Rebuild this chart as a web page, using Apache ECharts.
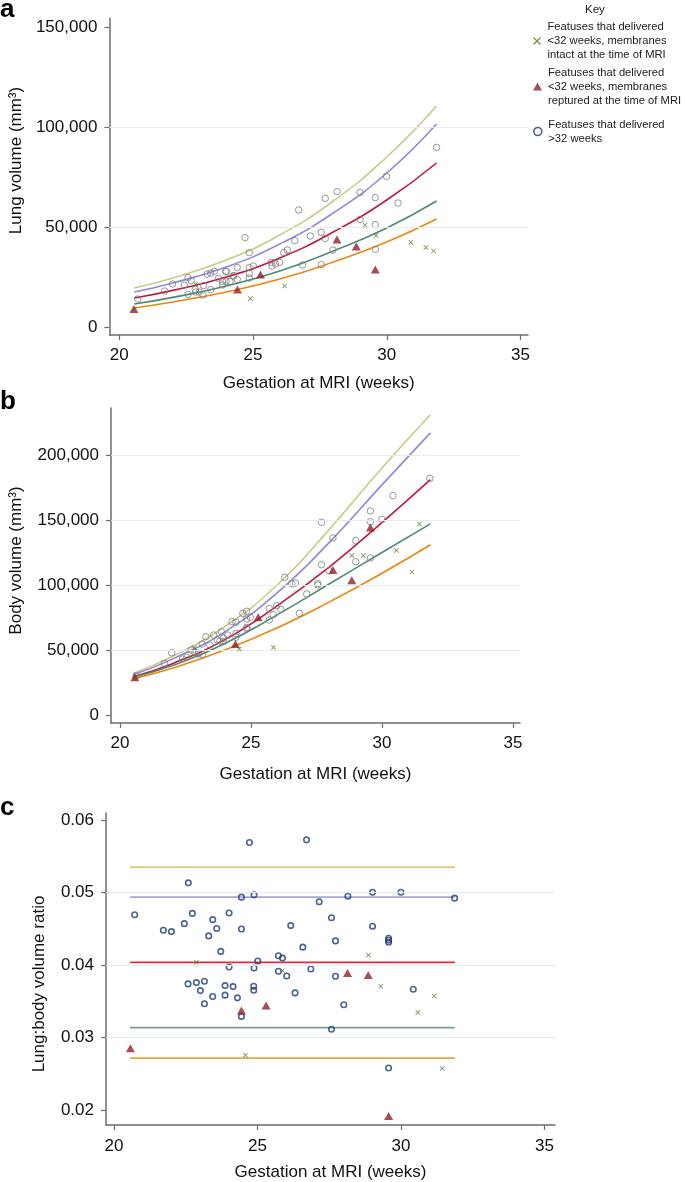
<!DOCTYPE html>
<html>
<head>
<meta charset="utf-8">
<script src="https://cdn.jsdelivr.net/npm/echarts@6/dist/echarts.min.js"></script>
<style>
html,body{margin:0;padding:0;background:#fff;}
#chart{width:685px;height:1182px;}
</style>
</head>
<body>
<div id="chart"></div>
<script>
// ---------- tick labels ----------
const xTicks = [20, 25, 30, 35];
const yTicksA = [0, 50000, 100000, 150000];
const yTicksB = [0, 50000, 100000, 150000, 200000];
const yTicksC = [0.02, 0.03, 0.04, 0.05, 0.06];
const gridA = [50000, 100000];
const gridB = [50000, 100000, 150000, 200000];
const gridC = [0.03, 0.04, 0.05];

// ---------- legend names ----------
const nameIntact = 'Featuses that delivered\n<32 weeks, membranes\nintact at the time of MRI';
const nameRuptured = 'Featuses that delivered\n<32 weeks, membranes\nreptured at the time of MRI';
const nameTerm = 'Featuses that delivered\n>32 weeks';

// ---------- panel a: lung volume ----------
const aCircX = [20.69,21.70,21.99,22.43,22.57,22.69,22.57,22.84,22.86,22.99,23.15,23.13,23.29,23.42,23.56,23.42,23.71,23.86,23.86,23.99,24.14,23.98,24.26,24.41,24.41,24.70,24.86,24.86,25.01,24.86,24.86,25.69,25.84,26.00,25.71,26.15,26.28,26.56,26.71,26.85,27.14,27.55,27.70,27.70,27.56,27.99,28.14,29.00,29.00,29.57,29.57,29.57,29.99,30.42,31.86,24.00,24.28];
const aCircY = [14000,18000,21500,21000,24700,23300,16300,18800,17500,17500,20700,16000,26500,27000,27800,18700,24300,22800,21000,22800,22800,27800,25500,29700,23800,44700,37200,29700,30500,26800,24500,32300,31500,32300,30500,37200,38500,43200,58500,31000,45500,47300,64300,44300,31200,38500,67700,67300,53800,64700,51200,38800,75300,62000,89800,27700,25700];
const aCrossX = [22.86,24.90,26.18,29.19,29.60,30.90,31.46,31.75];
const aCrossY = [21300,14200,20500,51000,45700,42300,39700,38000];
const aTriX = [20.55,24.42,25.28,28.14,28.86,29.57];
const aTriY = [9000,18800,26200,43800,40300,28800];
const aCurveWeeks = [20.56,22,24,26,28,30,31.86];
const aYellow = [19500,24500,33500,46000,63000,85000,110500];
const aPurple = [17500,22000,30000,41500,57000,77000,101500];
const aRed    = [14500,18300,25000,34500,47500,63500,82000];
const aGreen  = [11500,14800,20500,28000,38000,49500,63000];
const aOrange = [9500,12500,17500,24000,32500,42500,54000];

// ---------- panel b: body volume ----------
const bCircX = [31.83,30.42,29.56,29.56,30.00,27.69,28.13,29.00,29.00,29.56,27.69,27.98,26.29,26.56,26.70,27.55,27.55,27.13,26.85,25.70,25.99,26.14,25.85,25.70,24.69,24.84,24.84,24.98,24.84,24.84,24.28,24.43,24.43,24.43,24.12,23.87,23.95,23.82,23.95,23.72,23.58,23.43,23.28,23.14,22.71,23.00,23.15,22.55,22.39,21.98,21.70,20.62,22.86,22.98];
const bCircY = [182000,168700,156900,148700,150500,148200,136200,134300,117900,120800,115600,111000,105900,101000,101500,101000,100000,93100,78200,82000,84100,81300,77200,73100,78200,79800,73800,75100,67400,66600,71800,71300,62800,59800,61500,64100,59000,56900,56400,57700,61500,53800,60300,54600,50000,47400,46600,44400,43100,47900,39700,30000,48000,47000];
const bCrossX = [22.85,24.56,25.86,28.85,29.29,30.55,31.14,31.43];
const bCrossY = [51800,50800,52000,122600,122600,126600,110000,146900];
const bTriX = [20.57,24.41,25.28,28.13,28.85,29.56];
const bTriY = [29000,54600,75100,111500,103600,144300];
const bCurveWeeks = [20.5,22,24,26,28,30,31.85];
const bYellow = [32000,45000,68000,100000,143000,190000,231000];
const bPurple = [31000,43000,64000,94000,133000,177000,217000];
const bRed    = [29500,39500,58000,84000,114000,148000,181000];
const bGreen  = [29000,38000,55000,77000,101000,125000,147000];
const bOrange = [28000,36000,50000,67000,87000,109000,131000];

// ---------- panel c: lung:body ratio ----------
const cCircX = [24.72,26.71,22.59,20.72,21.72,22.00,22.45,22.73,23.44,23.58,23.30,24.01,24.44,24.88,24.44,23.72,24.01,24.88,25.01,25.73,25.87,25.73,26.02,26.16,26.58,26.86,27.15,27.58,27.72,27.72,28.15,29.01,29.01,29.57,29.57,29.57,30.00,31.87,30.43,28.01,22.58,22.87,23.15,23.01,23.87,24.15,23.44,23.15,23.87,24.30,24.87,24.87,24.44,26.31,27.58,29.57];
const cCircY = [0.05689,0.05726,0.05133,0.04694,0.04479,0.04461,0.04571,0.04712,0.04626,0.04503,0.04402,0.04717,0.04936,0.04968,0.04497,0.04188,0.03973,0.03959,0.04055,0.04128,0.04096,0.03914,0.03849,0.04544,0.04247,0.03945,0.04873,0.04653,0.04333,0.03845,0.04949,0.05004,0.04534,0.04370,0.04342,0.04315,0.05004,0.04922,0.03667,0.03452,0.03740,0.03758,0.03776,0.03648,0.03717,0.03703,0.03566,0.03466,0.03585,0.03548,0.03708,0.03653,0.03292,0.03616,0.03114,0.02580];
const cCrossX = [22.87,25.87,28.87,29.30,31.16,30.59,24.58,31.44];
const cCrossY = [0.04037,0.03922,0.04137,0.03708,0.03575,0.03347,0.02758,0.02575];
const cTriX = [28.14,28.86,24.44,25.30,20.57,29.57];
const cTriY = [0.03890,0.03863,0.03374,0.03442,0.02854,0.01918];
const cLineSpan = [20.56, 31.88];
const cLevels = [0.0535, 0.04936, 0.04037, 0.03137, 0.02716]; // yellow, purple, red, green, orange

// ---------- styles ----------
const FONT = 'Liberation Sans, Arial, Helvetica, sans-serif';
const FS = 17;
const AXIS = '#6e6e6e';
const curveColors = ['#cbc982', '#9088d8', '#c2163c', '#4f8a74', '#ea870f'];
const cLineColors = ['#dcc77c', '#a6a6cf', '#e42a3c', '#7b9c9c', '#e8a545'];
const CROSS = 'path://M0,1.2L1.2,0L5,3.8L8.8,0L10,1.2L6.2,5L10,8.8L8.8,10L5,6.2L1.2,10L0,8.8L3.8,5Z';
const crossColor = '#55792a';
const triColor = '#94202a';
const greyCirc = '#7d7d7d';
const navyCirc = '#1f3d75';

const zip = (xs, ys) => xs.map((x, i) => [x, ys[i]]);

function xAxisFor(gi, min, max, labelMargin, nameGap) {
  return {
    type: 'value', gridIndex: gi, min: min, max: max,
    name: 'Gestation at MRI (weeks)', nameLocation: 'middle', nameGap: nameGap,
    nameTextStyle: { fontFamily: FONT, fontSize: FS, color: '#111' },
    axisLine: { show: true, onZero: false, lineStyle: { color: AXIS, width: 1.5 } },
    axisTick: { show: true, length: 5, customValues: xTicks, lineStyle: { color: AXIS, width: 1.2 } },
    axisLabel: { customValues: xTicks, margin: labelMargin, fontFamily: FONT, fontSize: FS, color: '#111' },
    splitLine: { show: false }
  };
}
function yAxisFor(gi, min, max, ticks, name, nameGap, fmt, namePad) {
  return {
    type: 'value', gridIndex: gi, min: min, max: max,
    name: name, nameLocation: 'middle', nameGap: nameGap, nameRotate: 90,
    nameTextStyle: { fontFamily: FONT, fontSize: FS, color: '#111', padding: namePad },
    axisLine: { show: true, onZero: false, lineStyle: { color: AXIS, width: 1.5 } },
    axisTick: { show: true, length: 5, customValues: ticks, lineStyle: { color: AXIS, width: 1.2 } },
    axisLabel: { customValues: ticks, margin: 12, fontFamily: FONT, fontSize: FS, color: '#111', formatter: fmt },
    splitLine: { show: false }
  };
}
const fmtThousands = v => Math.round(v).toLocaleString('en-US');
const fmtRatio = v => v.toFixed(2);

function gridLines(values) {
  return {
    silent: true, symbol: 'none', label: { show: false },
    lineStyle: { color: '#e4ecf0', width: 1, type: 'solid' },
    data: values.map(v => ({ yAxis: v }))
  };
}

const series = [];
function addCurves(ai, weeks, arrays) {
  arrays.forEach((vals, k) => {
    series.push({
      type: 'line', xAxisIndex: ai, yAxisIndex: ai, data: zip(weeks, vals),
      smooth: true, symbol: 'none', silent: true, z: 2,
      lineStyle: { color: curveColors[k], width: 1.6 }
    });
  });
}
function addScatter(ai, circ, cross, tri, circColor, circSize, circBorder, grid) {
  series.push({
    name: nameTerm, type: 'scatter', xAxisIndex: ai, yAxisIndex: ai, data: circ,
    symbol: 'circle', symbolSize: circSize, z: 4,
    itemStyle: { color: 'rgba(255,255,255,0)', borderColor: circColor, borderWidth: circBorder },
    markLine: gridLines(grid)
  });
  series.push({
    name: nameIntact, type: 'scatter', xAxisIndex: ai, yAxisIndex: ai, data: cross,
    symbol: CROSS, symbolSize: 5, z: 5, itemStyle: { color: crossColor }
  });
  series.push({
    name: nameRuptured, type: 'scatter', xAxisIndex: ai, yAxisIndex: ai, data: tri,
    symbol: 'triangle', symbolSize: [9, 8], z: 6, itemStyle: { color: triColor }
  });
}

addCurves(0, aCurveWeeks, [aYellow, aPurple, aRed, aGreen, aOrange]);
addScatter(0, zip(aCircX, aCircY), zip(aCrossX, aCrossY), zip(aTriX, aTriY), greyCirc, 6.5, 1, gridA);
addCurves(1, bCurveWeeks, [bYellow, bPurple, bRed, bGreen, bOrange]);
addScatter(1, zip(bCircX, bCircY), zip(bCrossX, bCrossY), zip(bTriX, bTriY), greyCirc, 6.5, 1, gridB);
cLevels.forEach((lv, k) => {
  series.push({
    type: 'line', xAxisIndex: 2, yAxisIndex: 2, data: cLineSpan.map(x => [x, lv]),
    symbol: 'none', silent: true, z: 2, lineStyle: { color: cLineColors[k], width: 1.8 }
  });
});
addScatter(2, zip(cCircX, cCircY), zip(cCrossX, cCrossY), zip(cTriX, cTriY), navyCirc, 5.5, 1.6, gridC);

function legendFor(name, top, icon, style) {
  return {
    left: 533, top: top, orient: 'vertical', itemWidth: 9, itemHeight: 8, itemGap: 0,
    selectedMode: false, padding: 0,
    textStyle: { fontFamily: FONT, fontSize: 11.2, lineHeight: 14, color: '#222', padding: [0, 0, 0, 1] },
    data: [{ name: name, icon: icon, itemStyle: style }]
  };
}

const chart = echarts.init(document.getElementById('chart'), null, { renderer: 'canvas' });
chart.setOption({
  backgroundColor: '#ffffff',
  animation: false,
  grid: [
    { left: 107, top: 18, width: 421, height: 317 },
    { left: 107, top: 408, width: 413, height: 315 },
    { left: 106, top: 813, width: 449, height: 314 }
  ],
  xAxis: [
    xAxisFor(0, 19.63, 35.28, 12, 40),
    xAxisFor(1, 19.66, 35.27, 12, 43),
    xAxisFor(2, 19.72, 35.37, 13, 39)
  ],
  yAxis: [
    yAxisFor(0, -4000, 154500, yTicksA, 'Lung volume (mm³)', 84, fmtThousands, [0, 0, 0, 32]),
    yAxisFor(1, -6150, 236150, yTicksB, 'Body volume (mm³)', 86, fmtThousands, [0, 0, 0, 10]),
    yAxisFor(2, 0.01795, 0.06096, yTicksC, 'Lung:body volume ratio', 58, fmtRatio, [0, 30, 0, 0])
  ],
  legend: [
    legendFor(nameIntact, 20, CROSS, { color: crossColor }),
    legendFor(nameRuptured, 65.5, 'triangle', { color: triColor }),
    legendFor(nameTerm, 117.5, 'circle', { color: '#fff', borderColor: navyCirc, borderWidth: 1.6 })
  ],
  graphic: [
    { type: 'text', left: 0, top: -3, style: { text: 'a', font: 'bold 26px ' + FONT, fill: '#000' } },
    { type: 'text', left: 0, top: 389, style: { text: 'b', font: 'bold 26px ' + FONT, fill: '#000' } },
    { type: 'text', left: 0, top: 795, style: { text: 'c', font: 'bold 26px ' + FONT, fill: '#000' } },
    { type: 'text', left: 585, top: 4, style: { text: 'Key', font: '11.5px ' + FONT, fill: '#222' } }
  ],
  series: series
});
</script>
</body>
</html>
